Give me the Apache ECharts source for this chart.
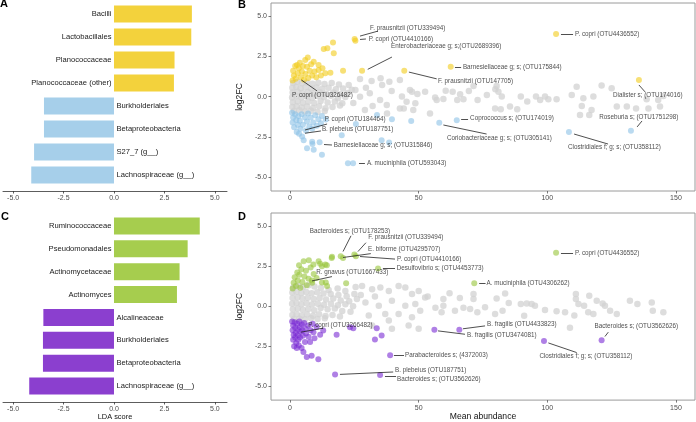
<!DOCTYPE html>
<html>
<head>
<meta charset="utf-8">
<script src="https://cdn.jsdelivr.net/npm/echarts@6/dist/echarts.min.js"></script>
<style>
  html, body { margin: 0; padding: 0; background: #fff; }
  #main { width: 696px; height: 422px; }
</style>
</head>
<body>
<div id="main"></div>
<script>
// LDA bars (panels A and C)
var catA = ['Bacilli', 'Lactobacillales', 'Planococcaceae', 'Planococcaceae (other)',
  'Burkholderiales', 'Betaproteobacteria', 'S27_7 (g__)', 'Lachnospiraceae (g__)'];
var valA = [3.86, 3.83, 3.0, 2.97, -3.47, -3.47, -3.96, -4.1];
var catC = ['Ruminococcaceae', 'Pseudomonadales', 'Actinomycetaceae', 'Actinomyces',
  'Alcalineaceae', 'Burkholderiales', 'Betaproteobacteria', 'Lachnospiraceae (g__)'];
var valC = [4.25, 3.65, 3.25, 3.12, -3.5, -3.52, -3.52, -4.2];
var ldaTicks = [-5, -2.5, 0, 2.5, 5];

// panel B : mean abundance vs log2FC
var greyB = [
  [1.2,0.85],[2.8,0.9],[4.6,0.82],[6.5,0.88],[8.7,0.8],[11.0,0.86],[13.4,0.78],[16.2,0.84],[19.0,0.75],[22.8,0.72],
  [0.9,0.55],[2.4,0.6],[4.1,0.52],[6.0,0.58],[8.2,0.5],[10.3,0.56],[12.6,0.48],[15.0,0.55],[17.8,0.45],[20.6,0.5],[24.0,0.42],
  [1.0,0.25],[2.9,0.3],[4.8,0.22],[6.9,0.28],[9.2,0.2],[11.5,0.27],[14.0,0.18],[16.8,0.25],[19.7,0.15],[25.4,0.41],[22.4,0.22],
  [0.8,-0.05],[2.5,0.02],[4.4,-0.06],[6.4,0.0],[8.5,-0.08],[10.8,0.03],[13.2,-0.04],[15.9,0.05],[18.6,-0.1],[21.5,-0.02],[27.2,-0.01],
  [1.1,-0.35],[3.0,-0.3],[5.0,-0.38],[7.1,-0.32],[9.4,-0.4],[11.9,-0.28],[14.6,-0.36],[17.4,-0.3],[20.3,-0.42],[24.6,-0.39],
  [0.9,-0.65],[2.6,-0.6],[4.5,-0.68],[6.6,-0.62],[8.9,-0.7],[11.3,-0.6],[13.8,-0.72],[16.5,-0.64],[19.4,-0.55],
  [1.5,-0.9],[3.6,-0.85],[5.8,-0.92],[8.2,-0.88],[10.7,-0.95],[13.5,-0.9],
  [27.2,1.09],[31.7,0.97],[35.2,1.13],[38.6,0.92],[42.7,1.03],[46.6,0.41],[49.5,0.16],[52.5,0.3],[57.0,-0.21],[29.5,0.55],
  [35.8,0.72],[43.5,0.0],[47.4,0.3],[48.7,-0.42],[44.2,-0.73],[37.7,-1.04],[35.0,-0.21],[42.7,-0.73],[47.9,-0.83],[37.6,-0.52],
  [45.3,-0.32],[32.1,-0.58],[29.1,-0.83],[54.4,-1.04],[31.0,0.2],[39.5,0.35],
  [60.5,0.37],[63.2,0.3],[66.1,0.14],[71.3,0.66],[56.4,-0.05],[59.6,-0.15],[65.0,-0.21],[67.4,-0.17],[72.9,-0.21],[79.8,0.45],
  [81.0,0.3],[82.3,0.0],[79.7,-0.73],[81.9,-0.79],[85.5,-0.62],[88.3,-0.79],[89.7,0.0],[92.2,-0.31],[95.6,0.0],[99.1,0.0],
  [100.4,-0.17],[103.6,-0.17],[97.2,-0.21],[111.4,0.61],[109.5,0.1],[114.0,-0.1],[117.9,0.0],[121.1,0.68],[113.4,-0.58],[117.2,-0.83],
  [112.7,-1.14],[116.3,-1.14],[127.0,-0.62],[130.9,-0.62],[134.5,-0.73],[139.3,-0.73],[143.8,-0.62],[138.6,-0.17],[143.1,-0.21],[145.1,0.04],
  [125.0,0.51],[80.3,0.66],[76.5,0.1],[69.5,0.35]
];
var upB = [
  [1.0,1.0],[1.5,1.3],[1.2,1.6],[2.0,1.9],[2.7,1.96],[2.2,1.1],[3.0,1.45],[3.4,1.75],[3.8,2.1],[4.2,1.2],
  [4.6,1.55],[5.0,1.9],[5.9,2.27],[5.4,1.05],[6.0,1.4],[6.6,1.85],[7.1,1.15],[7.6,1.6],[8.2,2.0],[8.6,1.3],
  [9.2,2.16],[9.5,1.55],[10.2,1.2],[11.1,1.65],[11.1,1.96],[12.0,1.3],[12.6,1.75],[13.7,1.44],[15.7,1.47],[6.9,2.43],
  [13.1,2.95],[14.5,2.99],[16.7,3.36],[17.0,2.68],[20.6,1.6],[28.0,1.6],[25.1,3.57],[25.4,3.46],[44.4,1.6],[62.45,1.85],
  [103.4,3.88],[135.6,1.03]
];
var downB = [
  [0.8,-1.0],[1.2,-1.3],[1.0,-1.6],[1.6,-1.9],[2.0,-1.1],[2.4,-1.45],[2.6,-2.2],[3.0,-1.75],[3.3,-1.2],[3.8,-1.5],
  [4.0,-2.0],[4.7,-2.48],[4.5,-1.1],[5.0,-1.75],[5.3,-2.7],[5.8,-1.3],[6.2,-2.1],[6.6,-1.55],[7.0,-1.05],[7.5,-1.85],
  [8.0,-1.3],[8.6,-2.0],[8.6,-2.8],[9.0,-1.6],[9.8,-1.15],[10.4,-1.8],[11.0,-1.4],[12.0,-1.65],[12.4,-1.2],[13.9,-1.42],
  [6.6,-3.2],[9.2,-3.3],[8.7,-2.94],[12.4,-3.6],[11.5,-2.83],[20.1,-2.4],[3.5,-2.3],
  [25.6,-1.7],[33.8,-1.14],[39.6,-1.41],[47.1,-1.51],[35.6,-2.7],[38.5,-2.85],[22.5,-4.13],[24.5,-4.13],[58.0,-1.62],
  [64.8,-1.47],[108.4,-2.19],[132.5,-2.11]
];
var namesB = ['F. prausnitzii (OTU339494)', 'P. copri (OTU4410166)', 'Enterobacteriaceae g; s;(OTU2689396)',
  'F. prausnitzii (OTU147705)', 'Barnesiellaceae g; s; (OTU175844)', 'P. copri (OTU4436552)',
  'Dialister s; (OTU174016)', 'P. copri (OTU326482)', 'P. copri (OTU184464)', 'B. plebeius (OTU187751)',
  'Barnesiellaceae g; s; (OTU315846)', 'A. muciniphila (OTU593043)', 'Coprococcus s; (OTU174019)',
  'Coriobacteriaceae g; s; (OTU305141)', 'Clostridiales f; g; s; (OTU358112)', 'Roseburia s; (OTU1751298)'];
var placeB = [[31.1,4.25,'l'],[30.6,3.57,'l'],[39.3,3.09,'l'],[57.5,0.95,'l'],[67.2,1.83,'l'],[110.8,3.88,'l'],
  [139.1,0.1,'c'],[12.6,0.1,'c'],[13.5,-1.39,'l'],[12.4,-2.04,'l'],[17.0,-3.0,'l'],[29.9,-4.13,'l'],
  [70.0,-1.36,'l'],[81.4,-2.57,'c'],[126.1,-3.12,'c'],[135.6,-1.26,'c']];
var leadB = [[27.2,3.75,34.2,4.06],[27.2,3.54,29.5,3.57],[30.2,1.69,39.6,2.45],[46.2,1.52,57.0,1.1],
  [64.1,1.83,66.5,1.83],[105.3,3.88,110.0,3.88],[135.6,0.72,138.0,0.29],[4.4,1.03,10.5,0.35],
  [5.8,-2.07,14.4,-1.7],[5.8,-2.27,12.0,-2.13],[13.2,-2.97,16.3,-3.0],[26.8,-4.13,29.1,-4.13],
  [66.5,-1.42,69.2,-1.42],[59.6,-1.76,76.4,-2.32],[110.4,-2.32,123.6,-2.94],[134.9,-1.88,136.8,-1.51]];

// panel D
var greyD = [
  [1.2,1.15],[3.0,1.25],[5.0,1.2],[7.2,1.3],[9.5,1.22],[12.0,1.15],[15.0,1.0],[18.5,1.1],[21.5,0.95],[25.5,1.2],
  [0.9,0.85],[2.5,0.9],[4.4,0.82],[6.3,0.88],[8.4,0.8],[10.6,0.86],[13.0,0.78],[15.8,0.75],[18.8,0.7],[22.0,0.62],[25.0,0.75],
  [1.0,0.5],[2.9,0.55],[4.8,0.47],[6.9,0.52],[9.2,0.45],[11.5,0.5],[14.0,0.42],[16.8,0.48],[19.7,0.35],[23.0,0.3],[26.0,0.45],
  [0.8,0.15],[2.5,0.2],[4.4,0.12],[6.4,0.18],[8.5,0.1],[10.8,0.15],[13.2,0.08],[15.9,0.15],[18.6,0.05],[21.5,0.12],[24.5,0.0],
  [1.1,-0.2],[3.0,-0.15],[5.0,-0.22],[7.1,-0.18],[9.4,-0.25],[11.9,-0.12],[14.6,-0.2],[17.4,-0.15],[20.3,-0.3],[23.5,-0.35],
  [0.9,-0.55],[2.6,-0.5],[4.5,-0.58],[6.6,-0.52],[8.9,-0.6],[11.3,-0.5],[13.8,-0.62],[16.5,-0.55],[19.4,-0.65],
  [1.5,-0.8],[3.6,-0.78],[5.8,-0.82],[8.2,-0.76],[10.7,-0.8],[13.5,-0.75],
  [28.0,1.26],[31.9,1.05],[35.1,1.16],[38.4,0.95],[42.2,1.26],[44.8,1.16],[47.4,0.75],[50.0,0.95],[29.3,0.23],[34.5,0.03],
  [39.6,0.33],[44.8,0.03],[48.7,0.13],[30.6,-0.59],[37.0,-0.49],[42.2,-0.49],[47.4,-0.69],[50.6,-0.28],[31.9,-1.21],[38.4,-0.9],
  [46.1,-1.21],[50.0,-1.41],[39.6,-1.41],[27.5,0.7],[33.0,0.6],[53.5,0.6],[52.5,0.54],
  [71.3,0.75],[71.3,0.44],[80.3,0.48],[83.6,0.79],[82.6,-0.28],[79.7,-0.49],[72.8,-0.38],[75.8,-0.07],[70.0,-0.18],[67.4,-0.1],
  [59.6,0.44],[59.6,0.03],[58.9,-0.38],[64.1,-0.28],[89.7,0.13],[92.0,0.17],[93.9,0.13],[95.2,0.02],[99.1,-0.24],[103.6,-0.32],
  [106.9,-0.38],[108.8,-1.35],[111.1,0.75],[111.1,0.44],[112.1,0.13],[114.3,0.03],[116.3,0.64],[115.9,-0.38],[117.9,-0.49],[119.2,0.33],
  [121.5,0.17],[122.4,0.03],[124.4,-0.28],[127.0,-0.49],[132.1,0.33],[135.0,0.13],[140.6,0.23],[141.0,-0.28],[145.1,-0.38],[110.5,-0.59],
  [56.5,-0.1],[62.0,0.8],[66.0,0.5],[85.0,0.2],[91.0,-0.6]
];
var upD = [
  [1.0,1.1],[1.4,1.45],[1.8,1.8],[2.3,1.25],[2.8,2.1],[3.0,1.6],[3.6,1.95],[4.0,1.15],[4.4,2.3],[4.8,1.5],
  [5.3,2.8],[5.6,1.85],[6.2,2.2],[6.5,1.3],[7.3,2.86],[7.2,1.7],[8.0,2.4],[8.6,1.45],[9.1,2.6],[9.2,2.0],
  [10.3,1.75],[11.1,2.8],[11.7,2.64],[12.4,2.49],[12.4,1.47],[13.7,2.6],[13.9,1.47],[14.3,2.55],[14.4,1.26],[3.5,2.55],
  [16.2,3.0],[16.3,3.07],[19.7,3.11],[20.6,3.0],[25.0,3.22],[25.6,3.1],[21.8,1.42],[34.2,2.35],[71.6,1.42],[103.4,3.32],[8.5,1.6]
];
var downD = [
  [0.8,-0.95],[1.2,-1.2],[1.0,-1.5],[1.4,-1.8],[1.2,-2.1],[1.8,-1.0],[2.0,-1.35],[2.2,-1.65],[2.0,-1.95],[2.4,-2.3],
  [2.8,-1.1],[3.0,-1.45],[3.0,-1.8],[3.2,-2.1],[3.6,-0.95],[3.8,-1.3],[4.0,-1.6],[3.9,-1.95],[4.5,-2.6],[4.6,-1.15],
  [4.8,-1.5],[5.0,-1.85],[5.2,-2.85],[5.5,-1.05],[5.8,-2.23],[6.0,-1.4],[6.2,-1.7],[6.5,-3.16],[7.0,-1.2],[7.2,-1.9],
  [7.8,-2.23],[8.0,-1.5],[8.4,-3.09],[8.8,-1.1],[9.1,-1.62],[9.5,-2.0],[10.3,-1.3],[11.0,-3.3],[11.7,-1.78],[12.9,-1.52],
  [1.6,-2.5],[2.6,-2.6],[3.4,-2.45],
  [18.1,-1.78],[23.3,-1.31],[24.6,-1.37],[33.7,-1.37],[33.0,-2.07],[35.6,-1.82],[56.1,-1.47],[65.8,-1.47],[98.7,-2.17],
  [121.1,-2.13],[38.9,-3.06],[17.5,-4.25],[35.0,-4.29]
];
var namesD = ['Bacteroides s; (OTU178253)', 'F. prausnitzii (OTU339494)', 'E. biforme (OTU4295707)',
  'P. copri (OTU4410166)', 'Desulfovibrio s; (OTU4453773)', 'R. gnavus (OTU1667433)', 'P. copri (OTU3266482)',
  'A. muciniphila (OTU4306262)', 'P. copri (OTU4436552)', 'B. fragilis (OTU4433823)', 'B. fragilis (OTU3474081)',
  'Bacteroides s; (OTU3562626)', 'Clostridiales f; g; s; (OTU358112)', 'Parabacteroides s; (4372003)',
  'B. plebeius (OTU187751)', 'Bacteroides s; (OTU3562626)'];
var placeD = [[23.3,4.63,'c'],[30.4,4.26,'l'],[30.3,3.52,'l'],[41.6,2.93,'l'],[41.5,2.35,'l'],[10.2,2.08,'l'],
  [7.1,-1.17,'l'],[76.4,1.42,'l'],[110.8,3.32,'l'],[76.6,-1.1,'l'],[68.8,-1.83,'l'],[134.6,-1.25,'c'],
  [115.0,-3.12,'c'],[44.7,-3.06,'l'],[40.8,-3.98,'l'],[41.6,-4.56,'l']];
var leadD = [[20.6,3.4,23.7,4.38],[26.4,3.4,29.5,3.95],[20.6,3.03,31.4,3.27],[27.2,3.09,40.8,2.93],
  [36.1,2.35,40.8,2.35],[8.55,1.57,16.3,1.84],[4.2,-1.62,12.9,-1.37],[73.5,1.42,76.0,1.42],
  [105.3,3.32,110.0,3.32],[67.2,-1.41,75.8,-1.23],[57.5,-1.54,68.0,-1.75],[122.4,-1.89,123.7,-1.62],
  [100.4,-2.29,111.4,-2.89],[40.4,-3.06,44.3,-3.06],[19.4,-4.25,40.1,-4.1],[36.9,-4.34,41.2,-4.34]];
var abTicks = [0, 50, 100, 150];
var fcTicks = [-5, -2.5, 0, 2.5, 5];

var FONT = 'Liberation Sans, Arial, sans-serif';
var chart = echarts.init(document.getElementById('main'), null, { renderer: 'canvas' });

function barSeries(idx, vals, up, down) {
  return {
    type: 'bar', xAxisIndex: idx, yAxisIndex: idx, barWidth: 17, silent: true,
    data: vals.map(function (v) {
      return {
        value: v,
        itemStyle: { color: v > 0 ? up : down },
        label: { show: true, position: v > 0 ? 'left' : 'right', distance: 2.5,
          formatter: '{b}', fontSize: 7.6, color: '#1a1a1a', fontFamily: FONT }
      };
    })
  };
}
function ldaX(idx, withName) {
  return {
    type: 'value', gridIndex: idx, min: -5.5, max: 5.6, offset: 4.5,
    name: withName ? 'LDA score' : '', nameLocation: 'middle', nameGap: 11,
    nameTextStyle: { fontSize: 7.4, color: '#111', fontFamily: FONT },
    axisLine: { show: true, onZero: false, lineStyle: { color: '#333', width: 0.8 } },
    axisTick: { show: true, length: 2.5, customValues: ldaTicks, lineStyle: { color: '#333', width: 0.8 } },
    axisLabel: { customValues: ldaTicks, margin: 3.5, fontSize: 7, color: '#4d4d4d', fontFamily: FONT,
      formatter: function (v) { return v.toFixed(1); } },
    splitLine: { show: false }
  };
}
function catY(idx, cats) {
  return { type: 'category', gridIndex: idx, data: cats, inverse: true,
    axisLine: { show: false }, axisTick: { show: false }, axisLabel: { show: false } };
}
function abX(idx, withName) {
  return {
    type: 'value', gridIndex: idx, min: -7.4, max: 157.4,
    name: withName ? 'Mean abundance' : '', nameLocation: 'middle', nameGap: 11,
    nameTextStyle: { fontSize: 8.6, color: '#111', fontFamily: FONT },
    axisLine: { show: false, onZero: false },
    axisTick: { show: true, length: 2.5, customValues: abTicks, lineStyle: { color: '#555', width: 0.8 } },
    axisLabel: { customValues: abTicks, margin: 4, fontSize: 7, color: '#4d4d4d', fontFamily: FONT },
    splitLine: { show: false }
  };
}
function fcY(idx) {
  return {
    type: 'value', gridIndex: idx, min: -5.85, max: 5.8,
    name: 'log2FC', nameLocation: 'middle', nameGap: 20,
    nameTextStyle: { fontSize: 8.6, color: '#111', fontFamily: FONT },
    axisLine: { show: false, onZero: false },
    axisTick: { show: true, length: 2.5, customValues: fcTicks, lineStyle: { color: '#555', width: 0.8 } },
    axisLabel: { customValues: fcTicks, margin: 4, fontSize: 7, color: '#4d4d4d', fontFamily: FONT,
      formatter: function (v) { return v.toFixed(1); } },
    splitLine: { show: false }
  };
}
function dots(idx, pts, color, opacity, size) {
  return { type: 'scatter', xAxisIndex: idx, yAxisIndex: idx, data: pts, symbolSize: size, silent: true,
    itemStyle: { color: color, opacity: opacity } };
}
function notes(idx, names, place) {
  return {
    type: 'scatter', xAxisIndex: idx, yAxisIndex: idx, symbolSize: 0.1, silent: true, z: 5,
    itemStyle: { color: 'rgba(0,0,0,0)' },
    data: names.map(function (n, i) {
      return {
        name: n, value: [place[i][0], place[i][1]],
        label: { show: true, position: [0, 0], formatter: '{b}', align: place[i][2] === 'c' ? 'center' : 'left',
          verticalAlign: 'middle', fontSize: 6.3, color: '#1a1a1a', fontFamily: FONT }
      };
    })
  };
}
function leaders(idx, segs) {
  return {
    type: 'lines', coordinateSystem: 'cartesian2d', xAxisIndex: idx, yAxisIndex: idx, silent: true, z: 4,
    lineStyle: { color: '#222', width: 0.8, opacity: 1 },
    data: segs.map(function (s) { return { coords: [[s[0], s[1]], [s[2], s[3]]] }; })
  };
}

var option = {
  backgroundColor: '#ffffff',
  animation: false,
  grid: [
    { left: 3, top: 2.5, width: 224, height: 184 },
    { left: 271, top: 3, width: 424, height: 188, show: true, borderColor: '#9a9a9a', borderWidth: 1, backgroundColor: 'transparent' },
    { left: 3, top: 214.5, width: 224, height: 183 },
    { left: 271, top: 213, width: 424, height: 189, show: true, borderColor: '#9a9a9a', borderWidth: 1, backgroundColor: 'transparent' }
  ],
  xAxis: [ldaX(0, false), abX(1, false), ldaX(2, true), abX(3, true)],
  yAxis: [catY(0, catA), fcY(1), catY(2, catC), fcY(3)],
  graphic: [
    { type: 'text', left: 0, top: -2, style: { text: 'A', font: 'bold 11px ' + FONT, fill: '#000' } },
    { type: 'text', left: 238, top: -1, style: { text: 'B', font: 'bold 11px ' + FONT, fill: '#000' } },
    { type: 'text', left: 1, top: 211, style: { text: 'C', font: 'bold 11px ' + FONT, fill: '#000' } },
    { type: 'text', left: 238, top: 211, style: { text: 'D', font: 'bold 11px ' + FONT, fill: '#000' } }
  ],
  series: [
    barSeries(0, valA, '#f3d23c', '#a6cfea'),
    barSeries(2, valC, '#a6cd4e', '#8b3fcf'),
    dots(1, greyB, '#d2d2d2', 0.75, 6.5),
    dots(1, upB, '#f2cc1a', 0.6, 6),
    dots(1, downB, '#8cc2e6', 0.6, 6),
    leaders(1, leadB),
    notes(1, namesB, placeB),
    dots(3, greyD, '#d2d2d2', 0.75, 6.5),
    dots(3, upD, '#98c43a', 0.6, 6),
    dots(3, downD, '#7a2bd3', 0.6, 6),
    leaders(3, leadD),
    notes(3, namesD, placeD)
  ]
};
chart.setOption(option);
</script>
</body>
</html>
